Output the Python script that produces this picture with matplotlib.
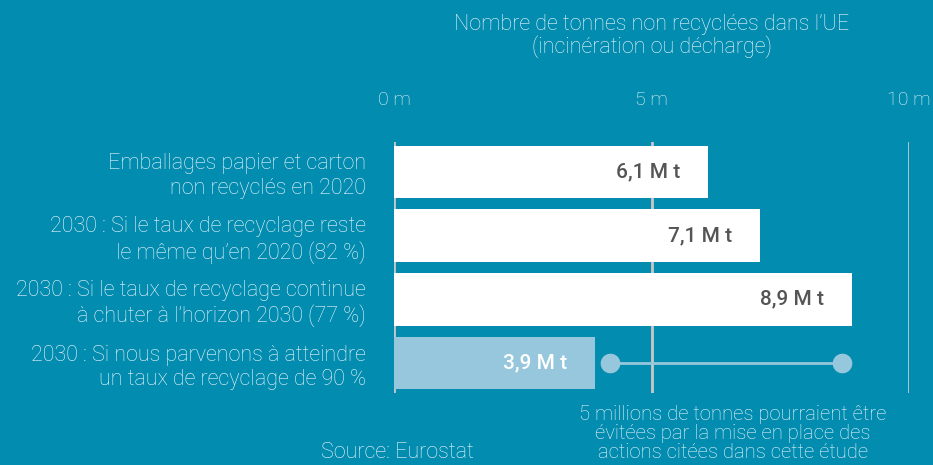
import matplotlib
matplotlib.use("Agg")
import matplotlib.pyplot as plt

categories = [
    "Emballages papier et carton\nnon recyclés en 2020",
    "2030 : Si le taux de recyclage reste\nle même qu\u2019en 2020 (82 %)",
    "2030 : Si le taux de recyclage continue\nà chuter à l\u2019horizon 2030 (77 %)",
    "2030 : Si nous parvenons à atteindre\nun taux de recyclage de 90 %",
]
values = [6.1, 7.1, 8.9, 3.9]
value_labels = ["6,1 M t", "7,1 M t", "8,9 M t", "3,9 M t"]
tick_values = [0, 5, 10]
tick_labels = ["0 m", "5 m", "10 m"]
avoided_range = [4.2, 8.7]

BG = "#028cb0"
LIGHT = "#97c7dc"
GRID = "#c8c8c8"
TXT = "#eef6fa"

plt.rcParams['font.family'] = ['Roboto', 'DejaVu Sans']

W, H = 933, 465
fig = plt.figure(figsize=(W / 100, H / 100), dpi=100, facecolor=BG)
ax = fig.add_axes([394 / W, 1 - 393 / H, 515 / W, (393 - 142) / H])
ax.set_facecolor(BG)

colors = ["white", "white", "white", LIGHT]
text_colors = ["#555555", "#555555", "#555555", "white"]
ypos = list(range(len(categories)))

for x in tick_values:
    ax.axvline(x, color=GRID, lw=2, zorder=1)

ax.barh(ypos, values, height=0.83, color=colors, zorder=2)
for y, v, lab, tc in zip(ypos, values, value_labels, text_colors):
    ax.annotate(lab, xy=(v, y), xytext=(-28, 0), textcoords="offset pixels",
                ha="right", va="center", color=tc, fontsize=15, fontweight="medium", zorder=3)

ax.plot(avoided_range, [3, 3], color=LIGHT, lw=2, zorder=3)
ax.scatter(avoided_range, [3, 3], s=200, color=LIGHT, zorder=4, linewidths=0)

ax.set_xlim(0, 10)
ax.set_ylim(3.47, -0.47)
ax.xaxis.tick_top()
ax.set_xticks(tick_values)
ax.set_xticklabels(tick_labels, fontsize=14, color=TXT, fontweight="light")
ax.tick_params(axis="x", length=0, pad=24)
ax.set_yticks(ypos)
ax.set_yticklabels(categories, fontsize=15.5, color=TXT, fontweight="light", linespacing=1.2)
ax.tick_params(axis="y", length=0, pad=20)
for s in ax.spines.values():
    s.set_visible(False)

fig.text(652 / W, 1 - 36 / H, "Nombre de tonnes non recyclées dans l\u2019UE\n(incinération ou décharge)",
         ha="center", va="center", fontsize=15.5, color=TXT, fontweight="light", linespacing=1.0)
fig.text(397 / W, 1 - 452 / H, "Source: Eurostat", ha="center", va="center",
         fontsize=15.5, color=TXT, fontweight="light")
fig.text(733 / W, 1 - 433 / H,
         "5 millions de tonnes pourraient être\névitées par la mise en place des\nactions citées dans cette étude",
         ha="center", va="center", fontsize=14.6, color=TXT, fontweight="light", linespacing=1.0)

fig.savefig("out.png", dpi=100, facecolor=BG)
